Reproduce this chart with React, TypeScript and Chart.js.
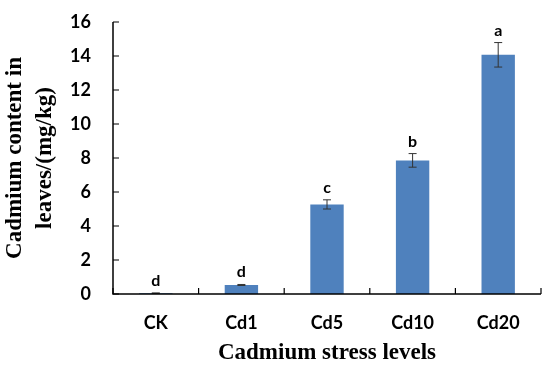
import React, { useEffect, useRef } from "react";
import { Chart, registerables } from "chart.js";

Chart.register(...registerables);

const categories = ["CK", "Cd1", "Cd5", "Cd10", "Cd20"];
const cadmiumValues = [0.05, 0.53, 5.27, 7.86, 14.07];
const errorValues = [0.01, 0.03, 0.27, 0.4, 0.72];
const significance = ["d", "d", "c", "b", "a"];
const yTicks = [0, 2, 4, 6, 8, 10, 12, 14, 16];

const tickFont = { family: "Lato", size: 18, weight: "bold" as const };
const titleFont = { family: "Liberation Serif", size: 23, weight: "bold" as const };

const overlayPlugin = {
  id: "overlay",
  afterDatasetsDraw(chart: any) {
    const ctx = chart.ctx;
    const x = chart.scales.x;
    const y = chart.scales.y;
    const area = chart.chartArea;
    ctx.save();
    ctx.strokeStyle = "#333333";
    ctx.lineWidth = 1;
    cadmiumValues.forEach((v, i) => {
      const px = x.getPixelForValue(i);
      const top = y.getPixelForValue(v + errorValues[i]);
      const bot = y.getPixelForValue(v - errorValues[i]);
      ctx.beginPath();
      ctx.moveTo(px, top);
      ctx.lineTo(px, bot);
      ctx.moveTo(px - 4, top);
      ctx.lineTo(px + 4, top);
      ctx.moveTo(px - 4, bot);
      ctx.lineTo(px + 4, bot);
      ctx.stroke();
      ctx.fillStyle = "#000000";
      ctx.font = "bold 16px Lato";
      ctx.textAlign = "center";
      ctx.textBaseline = "alphabetic";
      ctx.fillText(significance[i], px, top - 7);
    });
    ctx.strokeStyle = "#000000";
    ctx.lineWidth = 1.5;
    ctx.beginPath();
    ctx.moveTo(area.left, y.getPixelForValue(16));
    ctx.lineTo(area.left, area.bottom);
    ctx.lineTo(area.right, area.bottom);
    ctx.stroke();
    ctx.lineWidth = 1.2;
    ctx.beginPath();
    yTicks.forEach((t) => {
      const py = y.getPixelForValue(t);
      ctx.moveTo(area.left, py);
      ctx.lineTo(area.left + 6, py);
    });
    for (let i = 0; i <= categories.length; i++) {
      const px = x.getPixelForValue(i - 0.5);
      ctx.moveTo(px, area.bottom);
      ctx.lineTo(px, area.bottom - 6);
    }
    ctx.stroke();
    ctx.restore();
  },
};

export default function App() {
  const ref = useRef<HTMLCanvasElement | null>(null);
  useEffect(() => {
    if (!ref.current) return;
    const chart = new Chart(ref.current, {
      type: "bar",
      data: {
        labels: categories,
        datasets: [
          {
            data: cadmiumValues,
            backgroundColor: "#4F81BD",
            categoryPercentage: 1,
            barPercentage: 0.39,
          },
        ],
      },
      options: {
        responsive: false,
        animation: false,
        layout: { padding: { top: 22, right: 9, left: 0, bottom: 0 } },
        plugins: { legend: { display: false }, tooltip: { enabled: false } },
        scales: {
          x: {
            grid: { display: false, drawTicks: false },
            border: { display: false },
            ticks: { color: "#000", font: tickFont, padding: 18 },
            title: {
              display: true,
              text: "Cadmium stress levels",
              color: "#000",
              font: titleFont,
              padding: { top: 2, bottom: 0 },
            },
            afterFit: (s: any) => {
              s.height = 73;
              s.paddingLeft = 0;
              s.paddingRight = 0;
            },
          },
          y: {
            min: 0,
            max: 16,
            grid: { display: false, drawTicks: false },
            border: { display: false },
            ticks: { color: "#000", font: tickFont, padding: 22, stepSize: 2 },
            title: {
              display: true,
              text: ["Cadmium content in", "leaves/(mg/kg)"],
              color: "#000",
              font: { ...titleFont, lineHeight: 1.3 },
              padding: { top: 0, bottom: 0 },
            },
            afterFit: (s: any) => {
              s.width = 113;
              s.paddingTop = 0;
              s.paddingBottom = 0;
            },
          },
        },
      },
      plugins: [overlayPlugin],
    });
    return () => chart.destroy();
  }, []);
  return (
    <div style={{ position: "absolute", left: 0, top: 0, width: 550, height: 367, background: "#fff" }}>
      <canvas ref={ref} width={550} height={367} />
    </div>
  );
}
